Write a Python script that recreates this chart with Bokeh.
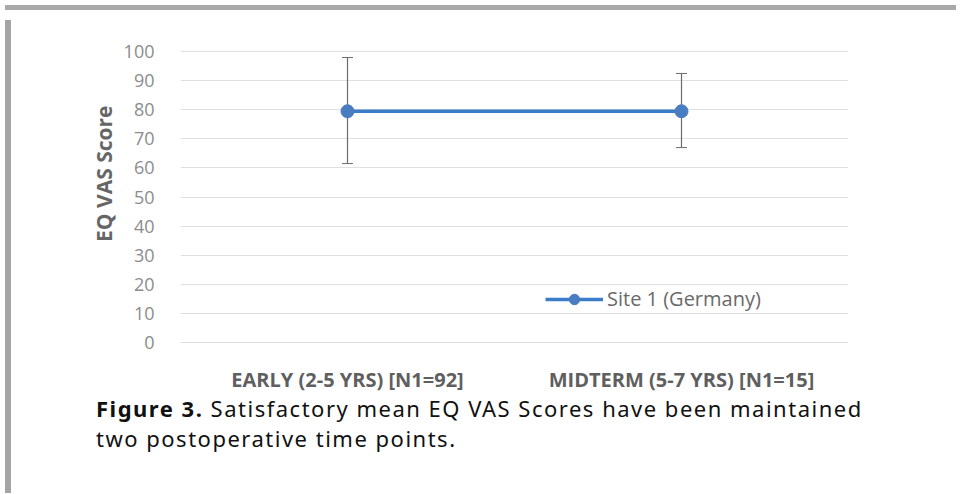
from bokeh.plotting import figure
from bokeh.models import (FactorRange, Range1d, Legend, LegendItem, Div, Title,
                          ColumnDataSource, Whisker, FixedTicker)
from bokeh.layouts import column, row
from bokeh.embed import file_html
from bokeh.resources import INLINE

# ---- data ----
categories = ["EARLY (2-5 YRS) [N1=92]", "MIDTERM (5-7 YRS) [N1=15]"]
means = [79.5, 79.5]
upper = [98.0, 92.5]
lower = [61.5, 67.0]
series_name = "Site 1 (Germany)"
y_ticks = [0, 10, 20, 30, 40, 50, 60, 70, 80, 90, 100]
caption_bold = "Figure 3."
caption_line1 = "Satisfactory mean EQ VAS Scores have been maintained"
caption_line2 = "two postoperative time points."
y_title = "EQ VAS Score"

src = ColumnDataSource(dict(x=categories, y=means, upper=upper, lower=lower))

FW, FH = 945, 383
p = figure(x_range=FactorRange(factors=categories, range_padding=0),
           y_range=Range1d(-0.4, 100.4),
           width=FW, height=FH, output_backend="svg", toolbar_location=None,
           min_border_left=164, min_border_right=113, min_border_top=35,
           min_border_bottom=FH - 35 - 293)
p.background_fill_color = "white"
p.border_fill_color = "white"
p.outline_line_color = None

r_line = p.line("x", "y", source=src, line_color="#3b7cc9", line_width=3.5)
w = Whisker(base="x", upper="upper", lower="lower", source=src,
            line_color="#6b6b6b", line_width=1.2)
w.upper_head.size = 11
w.lower_head.size = 11
w.upper_head.line_color = "#6b6b6b"
w.lower_head.line_color = "#6b6b6b"
p.add_layout(w)
r_pts = p.scatter("x", "y", source=src, size=13, fill_color="#4a7cc0",
                  line_color="#4a7cc0")

# axes
p.yaxis.ticker = FixedTicker(ticks=y_ticks)
p.yaxis.axis_line_color = None
p.yaxis.major_tick_line_color = None
p.yaxis.minor_tick_line_color = None
p.yaxis.major_label_text_font = "Open Sans"
p.yaxis.major_label_text_font_size = "18px"
p.yaxis.major_label_text_color = "#8c8c8c"
p.yaxis.major_label_standoff = 20

p.xaxis.axis_line_color = None
p.xaxis.major_tick_line_color = None
p.xaxis.minor_tick_line_color = None
p.xaxis.major_label_text_font = "Open Sans"
p.xaxis.major_label_text_font_size = "20px"
p.xaxis.major_label_text_font_style = "bold"
p.xaxis.major_label_text_color = "#5f5f5f"
p.xaxis.major_label_standoff = 16

p.xgrid.grid_line_color = None
p.ygrid.grid_line_color = "#e0e0e0"
p.ygrid.grid_line_width = 1

# y axis title (sits above the frame centre, as in the original)
p.add_layout(Title(text=y_title, align="right", offset=55, standoff=6,
                   text_font="Open Sans", text_font_size="21px",
                   text_font_style="bold", text_color="#666666"), "left")

# legend
legend = Legend(items=[LegendItem(label=series_name, renderers=[r_line, r_pts])],
                location=(365, 31), padding=0, margin=0, glyph_width=58,
                glyph_height=26, label_standoff=4, border_line_color=None,
                background_fill_alpha=0, label_text_font="Open Sans",
                label_text_font_size="20px", label_text_color="#6a6a6a")
p.add_layout(legend)

# caption
caption_html = (
    '<div style="font-family:\'Noto Sans\';font-size:22px;line-height:30px;'
    'letter-spacing:1.5px;color:#111111;white-space:nowrap;margin-top:-10px;">'
    f'<b>{caption_bold}</b> {caption_line1}<br>{caption_line2}</div>'
)
caption = Div(text=caption_html, width=FW, height=473 - FH,
              styles={"padding-left": "75px", "background-color": "white"})

top_band = Div(width=951, height=5, styles={"background-color": "#a9a9a9"})
left_band = Div(width=6, height=473, styles={"background-color": "#a4a4a4"})
layout = column(top_band, row(left_band, column(p, caption, spacing=0), spacing=0),
                spacing=0)

open("out.html", "w").write(file_html(layout, INLINE))
